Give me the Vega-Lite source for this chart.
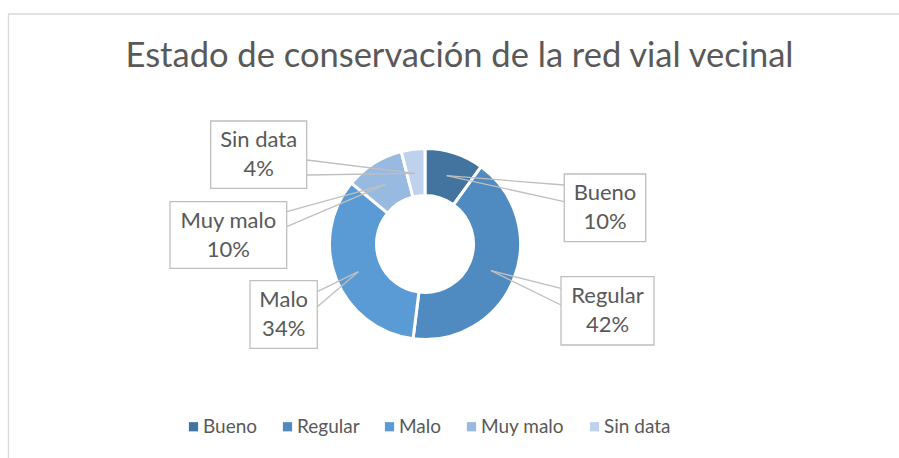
{
  "$schema": "https://vega.github.io/schema/vega-lite/v6.json",
  "width": 899,
  "height": 458,
  "padding": 0,
  "autosize": {"type": "none"},
  "background": "white",
  "config": {"view": {"stroke": null}, "font": "Lato"},
  "title": {
    "text": "Estado de conservación de la red vial vecinal",
    "font": "Lato",
    "fontSize": 34.5,
    "fontWeight": "normal",
    "color": "#595959",
    "anchor": "middle",
    "baseline": "alphabetic",
    "dx": 10,
    "dy": 105
  },
  "data": {
    "values": [
      {"categoria": "Bueno", "pct": 10},
      {"categoria": "Regular", "pct": 42},
      {"categoria": "Malo", "pct": 34},
      {"categoria": "Muy malo", "pct": 10},
      {"categoria": "Sin data", "pct": 4}
    ]
  },
  "transform": [
    {"window": [{"op": "row_number", "as": "orden"}]},
    {"calculate": "[datum.categoria, datum.pct + '%']", "as": "etiqueta"}
  ],
  "layer": [
    {
      "transform": [{"filter": "datum.orden === 1"}],
      "mark": {"type": "rect", "filled": false, "stroke": "#D9D9D9", "strokeWidth": 1.3, "clip": false},
      "encoding": {
        "x": {"datum": -416.5, "type": "quantitative", "scale": {"domain": [-425, 474], "nice": false, "zero": false}, "axis": null},
        "x2": {"datum": 495},
        "y": {"datum": 230, "type": "quantitative", "scale": {"domain": [-214, 244], "nice": false, "zero": false}, "axis": null},
        "y2": {"datum": -226}
      }
    },
    {
      "mark": {"type": "arc", "radius": 95.5, "radius2": 48.5, "stroke": "white", "strokeWidth": 3},
      "encoding": {
        "x": {"datum": 0, "type": "quantitative"},
        "y": {"datum": 0, "type": "quantitative"},
        "theta": {"field": "pct", "type": "quantitative", "stack": true},
        "order": {"field": "orden", "type": "quantitative"},
        "color": {
          "field": "categoria",
          "type": "nominal",
          "sort": null,
          "scale": {
            "domain": ["Bueno", "Regular", "Malo", "Muy malo", "Sin data"],
            "range": ["#43739F", "#4F8BC0", "#5B9BD5", "#98BAE1", "#BED2ED"]
          },
          "legend": {
            "title": null,
            "orient": "none",
            "direction": "horizontal",
            "legendX": 184,
            "legendY": 417,
            "padding": 0,
            "symbolType": "square",
            "symbolSize": 85,
            "symbolStrokeWidth": 0,
            "labelFont": "Lato",
            "labelFontSize": 19,
            "labelColor": "#595959",
            "labelOffset": 0,
            "columnPadding": 20
          }
        }
      }
    },
    {
      "transform": [{"filter": "datum.categoria === 'Bueno'"}],
      "layer": [
        {"mark": {"type": "rule", "stroke": "#BFBFBF", "strokeWidth": 1.3},
         "encoding": {"x": {"datum": 21.7, "type": "quantitative"}, "y": {"datum": 68.3, "type": "quantitative"}, "x2": {"datum": 139.3}, "y2": {"datum": 59}}},
        {"mark": {"type": "rule", "stroke": "#BFBFBF", "strokeWidth": 1.3},
         "encoding": {"x": {"datum": 21.7, "type": "quantitative"}, "y": {"datum": 68.3, "type": "quantitative"}, "x2": {"datum": 139.3}, "y2": {"datum": 42.3}}},
        {"mark": {"type": "rect", "fill": "white", "stroke": "#BFBFBF", "strokeWidth": 1.3},
         "encoding": {"x": {"datum": 139.3, "type": "quantitative"}, "x2": {"datum": 220.7}, "y": {"datum": 70, "type": "quantitative"}, "y2": {"datum": 2.3}}},
        {"mark": {"type": "text", "font": "Lato", "fontSize": 22, "color": "#595959", "lineHeight": 29, "align": "center", "baseline": "middle", "dy": -14.5},
         "encoding": {"x": {"datum": 180, "type": "quantitative"}, "y": {"datum": 36.2, "type": "quantitative"}, "text": {"field": "etiqueta"}}}
      ]
    },
    {
      "transform": [{"filter": "datum.categoria === 'Regular'"}],
      "layer": [
        {"mark": {"type": "rule", "stroke": "#BFBFBF", "strokeWidth": 1.3},
         "encoding": {"x": {"datum": 66, "type": "quantitative"}, "y": {"datum": -26.7, "type": "quantitative"}, "x2": {"datum": 136}, "y2": {"datum": -44.3}}},
        {"mark": {"type": "rule", "stroke": "#BFBFBF", "strokeWidth": 1.3},
         "encoding": {"x": {"datum": 66, "type": "quantitative"}, "y": {"datum": -26.7, "type": "quantitative"}, "x2": {"datum": 136}, "y2": {"datum": -61}}},
        {"mark": {"type": "rect", "fill": "white", "stroke": "#BFBFBF", "strokeWidth": 1.3},
         "encoding": {"x": {"datum": 136, "type": "quantitative"}, "x2": {"datum": 229}, "y": {"datum": -32.7, "type": "quantitative"}, "y2": {"datum": -101}}},
        {"mark": {"type": "text", "font": "Lato", "fontSize": 22, "color": "#595959", "lineHeight": 29, "align": "center", "baseline": "middle", "dy": -14.5},
         "encoding": {"x": {"datum": 182.5, "type": "quantitative"}, "y": {"datum": -66.9, "type": "quantitative"}, "text": {"field": "etiqueta"}}}
      ]
    },
    {
      "transform": [{"filter": "datum.categoria === 'Malo'"}],
      "layer": [
        {"mark": {"type": "rule", "stroke": "#BFBFBF", "strokeWidth": 1.3},
         "encoding": {"x": {"datum": -66.7, "type": "quantitative"}, "y": {"datum": -27.7, "type": "quantitative"}, "x2": {"datum": -107.7}, "y2": {"datum": -47.7}}},
        {"mark": {"type": "rule", "stroke": "#BFBFBF", "strokeWidth": 1.3},
         "encoding": {"x": {"datum": -66.7, "type": "quantitative"}, "y": {"datum": -27.7, "type": "quantitative"}, "x2": {"datum": -107.7}, "y2": {"datum": -62.7}}},
        {"mark": {"type": "rect", "fill": "white", "stroke": "#BFBFBF", "strokeWidth": 1.3},
         "encoding": {"x": {"datum": -175, "type": "quantitative"}, "x2": {"datum": -107.7}, "y": {"datum": -36.7, "type": "quantitative"}, "y2": {"datum": -104.3}}},
        {"mark": {"type": "text", "font": "Lato", "fontSize": 22, "color": "#595959", "lineHeight": 29, "align": "center", "baseline": "middle", "dy": -14.5},
         "encoding": {"x": {"datum": -141.3, "type": "quantitative"}, "y": {"datum": -70.5, "type": "quantitative"}, "text": {"field": "etiqueta"}}}
      ]
    },
    {
      "transform": [{"filter": "datum.categoria === 'Muy malo'"}],
      "layer": [
        {"mark": {"type": "rule", "stroke": "#BFBFBF", "strokeWidth": 1.3},
         "encoding": {"x": {"datum": -39.3, "type": "quantitative"}, "y": {"datum": 59.7, "type": "quantitative"}, "x2": {"datum": -138.3}, "y2": {"datum": 32.3}}},
        {"mark": {"type": "rule", "stroke": "#BFBFBF", "strokeWidth": 1.3},
         "encoding": {"x": {"datum": -39.3, "type": "quantitative"}, "y": {"datum": 59.7, "type": "quantitative"}, "x2": {"datum": -138.3}, "y2": {"datum": 17.3}}},
        {"mark": {"type": "rect", "fill": "white", "stroke": "#BFBFBF", "strokeWidth": 1.3},
         "encoding": {"x": {"datum": -255, "type": "quantitative"}, "x2": {"datum": -138.3}, "y": {"datum": 42.3, "type": "quantitative"}, "y2": {"datum": -24.3}}},
        {"mark": {"type": "text", "font": "Lato", "fontSize": 22, "color": "#595959", "lineHeight": 29, "align": "center", "baseline": "middle", "dy": -14.5},
         "encoding": {"x": {"datum": -196.7, "type": "quantitative"}, "y": {"datum": 9, "type": "quantitative"}, "text": {"field": "etiqueta"}}}
      ]
    },
    {
      "transform": [{"filter": "datum.categoria === 'Sin data'"}],
      "layer": [
        {"mark": {"type": "rule", "stroke": "#BFBFBF", "strokeWidth": 1.3},
         "encoding": {"x": {"datum": -10, "type": "quantitative"}, "y": {"datum": 70.7, "type": "quantitative"}, "x2": {"datum": -118.3}, "y2": {"datum": 84}}},
        {"mark": {"type": "rule", "stroke": "#BFBFBF", "strokeWidth": 1.3},
         "encoding": {"x": {"datum": -10, "type": "quantitative"}, "y": {"datum": 70.7, "type": "quantitative"}, "x2": {"datum": -118.3}, "y2": {"datum": 69}}},
        {"mark": {"type": "rect", "fill": "white", "stroke": "#BFBFBF", "strokeWidth": 1.3},
         "encoding": {"x": {"datum": -214.3, "type": "quantitative"}, "x2": {"datum": -118.3}, "y": {"datum": 123, "type": "quantitative"}, "y2": {"datum": 55.7}}},
        {"mark": {"type": "text", "font": "Lato", "fontSize": 22, "color": "#595959", "lineHeight": 29, "align": "center", "baseline": "middle", "dy": -14.5},
         "encoding": {"x": {"datum": -166.3, "type": "quantitative"}, "y": {"datum": 89.3, "type": "quantitative"}, "text": {"field": "etiqueta"}}}
      ]
    }
  ]
}
